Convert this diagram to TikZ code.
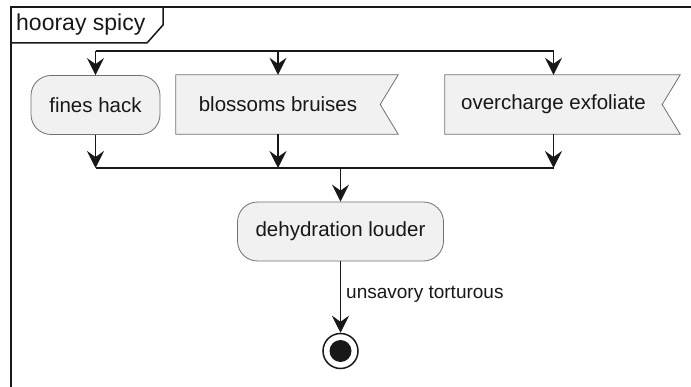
\documentclass[tikz,border=0pt]{standalone}
\usepackage{fontspec}
\setmainfont{Liberation Sans}
\usetikzlibrary{arrows.meta,backgrounds}
\definecolor{boxfill}{HTML}{F1F1F1}
\definecolor{ink}{HTML}{181818}
\definecolor{boxline}{HTML}{707070}

\begin{document}
\begin{tikzpicture}[x=1pt,y=-1pt,
  acttext/.style={font=\fontsize{20.5}{24}\selectfont, text=ink, inner sep=0pt},
  roundact/.style={acttext, draw=boxline, fill=boxfill, line width=0.8pt,
    rounded corners=20pt, minimum height=59pt},
  flagact/.style={acttext, minimum height=59pt},
  flagline/.style={draw=boxline, fill=boxfill, line width=0.8pt},
  flow/.style={draw=ink, line width=1.3pt,
    -{Stealth[length=17pt,width=17pt,inset=6pt]}},
  forkline/.style={draw=ink, line width=1.4pt},
  joinbar/.style={draw=ink, line width=2.4pt},
  frameline/.style={draw=ink, line width=1.5pt},
  endring/.style={circle, draw=ink, line width=1.5pt, minimum size=35pt, inner sep=0pt},
  endcore/.style={circle, fill=ink, minimum size=22pt, inner sep=0pt},
]
\useasboundingbox (0,0) rectangle (691,387);
\clip (0,0) rectangle (691,387);

% frame and its title tab
\draw[frameline] (11,400) -- (11,7) -- (700,7);
\draw[frameline] (11,43) -- (147,43) -- (163,25) -- (163,7);
\node[anchor=west, font=\fontsize{23}{27}\selectfont, text=ink, inner sep=0pt]
  (title) at (16,25) {hooray spicy};

% parallel activities
\node[roundact, minimum width=129pt] (fines) at (95.5,105) {fines hack};
\node[flagact, minimum width=204pt] (bloss) at (278,104.5) {blossoms bruises};
\node[flagact, minimum width=217pt] (over) at (553.5,104.5) {overcharge exfoliate};

\begin{scope}[on background layer]
  \path[flagline] (bloss.north west) -- ([xshift=18pt]bloss.north east)
    -- (bloss.east) -- ([xshift=18pt]bloss.south east) -- (bloss.south west) -- cycle;
  \path[flagline] (over.north west) -- ([xshift=18pt]over.north east)
    -- (over.east) -- ([xshift=18pt]over.south east) -- (over.south west) -- cycle;
\end{scope}

% fork
\coordinate (fa) at (95.5,51);
\coordinate (fb) at (278,51);
\coordinate (fc) at (553.5,51);
\draw[forkline] (fa) -- (fc);
\draw[flow] (fa) -- (fines.north);
\draw[flow] (fb) -- (bloss.north);
\draw[flow] (fc) -- (over.north);

% join
\coordinate (ja) at (95.5,168);
\coordinate (jb) at (278,168);
\coordinate (jc) at (553.5,168);
\coordinate (jm) at (340.5,168);
\draw[flow] (fines.south) -- (ja);
\draw[flow] (bloss.south) -- (jb);
\draw[flow] (over.south) -- (jc);
\draw[joinbar] (ja) -- (jc);

% final activity and end
\node[roundact, minimum width=206pt] (dehyd) at (340.5,231.5) {dehydration louder};
\draw[flow] (jm) -- (dehyd.north);

\node[endring] (stop) at (340.5,351) {};
\node[endcore] (stopcore) at (stop.center) {};
\draw[flow] (dehyd.south) -- (stop.north);
\node[anchor=west, font=\fontsize{19}{22}\selectfont, text=ink, inner sep=0pt]
  (guard) at (346,294) {unsavory torturous};
\end{tikzpicture}
\end{document}
